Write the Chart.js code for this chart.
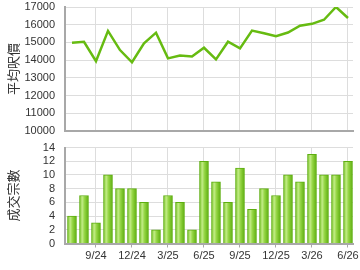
<!DOCTYPE html>
<html>
<head>
<meta charset="utf-8">
<script src="https://cdn.jsdelivr.net/npm/chart.js@4"></script>
<style>
  html, body { margin: 0; padding: 0; background: #fff; }
  .box { position: absolute; left: 0; width: 360px; height: 135px; }
</style>
</head>
<body>
<div class="box" style="top:0"><canvas id="priceChart" width="360" height="135"></canvas></div>
<div class="box" style="top:135px"><canvas id="countChart" width="360" height="135"></canvas></div>
<script>
// 月份
const months = ['7/24','8/24','9/24','10/24','11/24','12/24','1/25','2/25','3/25','4/25','5/25','6/25',
                '7/25','8/25','9/25','10/25','11/25','12/25','1/26','2/26','3/26','4/26','5/26','6/26'];
// 平均呎價
const price = [14980, 15040, 13940, 15650, 14570, 13880, 14950, 15550, 14100, 14260, 14210, 14700,
               14040, 15040, 14660, 15670, 15520, 15350, 15560, 15940, 16050, 16280, 17000, 16380];
// 成交宗數
const deals = [4, 7, 3, 10, 8, 8, 6, 2, 7, 6, 2, 12, 9, 6, 11, 5, 8, 7, 10, 9, 13, 10, 10, 12];
// 顯示的月份（每三個月）
const tickIdx = [2, 5, 8, 11, 14, 17, 20, 23];

const gridColor = '#dddddd';
const axisColor = '#a8a8a8';
const tickFont = { family: 'Liberation Sans, Arial, sans-serif', size: 11 };
const titleFont = { family: '"Noto Sans CJK TC", sans-serif', size: 13 };

function xAxis(showLabels) {
    return {
        type: 'linear',
        min: -0.583,
        max: 23.417,
        offset: false,
        afterBuildTicks: s => { s.ticks = tickIdx.map(v => ({ value: v })); },
        afterFit: s => {
            s.height = showLabels ? 22 : 0;
            s.paddingLeft = 0; s.paddingRight = 0;
        },
        grid: { color: gridColor, offset: false, drawTicks: showLabels, tickLength: 4, tickColor: axisColor },
        border: { color: axisColor, width: 2 },
        ticks: {
            display: showLabels,
            padding: 2,
            color: '#333',
            font: tickFont,
            maxRotation: 0,
            autoSkip: false,
            callback: v => months[v]
        }
    };
}

function yAxis(title, min, max, step) {
    return {
        min: min,
        max: max,
        afterFit: s => {
            s.width = 65;
            s.paddingTop = 0; s.paddingBottom = 0;
        },
        grid: { color: gridColor, drawTicks: false },
        border: { color: axisColor, width: 2 },
        ticks: { stepSize: step, autoSkip: false, padding: 10, color: '#333', font: tickFont, callback: v => String(v) },
        title: { display: true, text: title, color: '#333', font: titleFont, padding: { top: 5, bottom: 0 } }
    };
}

// 平均呎價 折線圖
new Chart(document.getElementById('priceChart'), {
    type: 'line',
    data: {
        datasets: [{
            data: price.map((v, i) => ({ x: i, y: v })),
            borderColor: '#66bb11',
            borderWidth: 2.5,
            pointRadius: 0,
            tension: 0,
            fill: false
        }]
    },
    options: {
        responsive: false,
        animation: false,
        layout: { padding: { top: 7, right: 7, bottom: 4, left: 0 } },
        plugins: { legend: { display: false }, tooltip: { enabled: false } },
        scales: {
            x: xAxis(false),
            y: yAxis('平均呎價', 10000, 17000, 1000)
        }
    }
});

// 棒的漸變色
function barFill(context) {
    const chart = context.chart;
    const xs = chart.scales.x;
    if (!xs || context.dataIndex === undefined) return '#88cc44';
    const cx = xs.getPixelForValue(context.dataIndex);
    if (!isFinite(cx)) return '#88cc44';
    const g = chart.ctx.createLinearGradient(cx - 4.5, 0, cx + 4.5, 0);
    g.addColorStop(0, '#74c022');
    g.addColorStop(0.3, '#c2ec86');
    g.addColorStop(0.55, '#96d646');
    g.addColorStop(1, '#5cae0c');
    return g;
}

// 成交宗數 棒圖
new Chart(document.getElementById('countChart'), {
    type: 'bar',
    data: {
        datasets: [{
            data: deals.map((v, i) => ({ x: i, y: v })),
            backgroundColor: barFill,
            borderColor: '#5eae10',
            borderWidth: 1,
            barThickness: 9
        }]
    },
    options: {
        responsive: false,
        animation: false,
        layout: { padding: { top: 12.5, right: 7, bottom: 4.5, left: 0 } },
        plugins: { legend: { display: false }, tooltip: { enabled: false } },
        scales: {
            x: xAxis(true),
            y: yAxis('成交宗數', 0, 14, 2)
        }
    }
});
</script>
</body>
</html>
